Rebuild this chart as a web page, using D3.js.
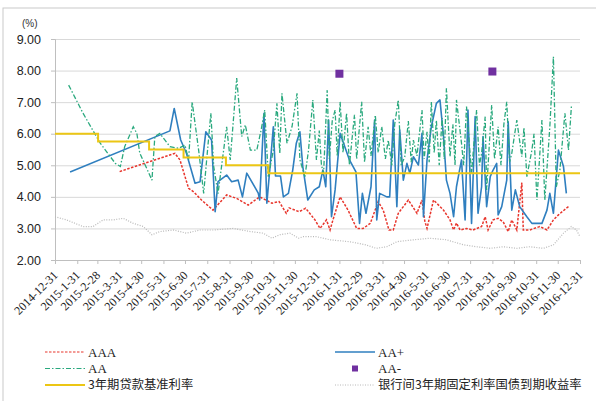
<!DOCTYPE html>
<html>
<head>
<meta charset="utf-8">
<script src="https://cdn.jsdelivr.net/npm/d3@7"></script>
<style>
body{margin:0;background:#fff;}
svg{display:block;}
</style>
</head>
<body>
<svg id="svg" width="596" height="401"></svg>
<script>
// month-end tick labels
var tickLabels = ["2014-12-31","2015-1-31","2015-2-28","2015-3-31","2015-4-30","2015-5-31","2015-6-30",
  "2015-7-31","2015-8-31","2015-9-30","2015-10-31","2015-11-30","2015-12-31","2016-1-31","2016-2-29",
  "2016-3-31","2016-4-30","2016-5-31","2016-6-30","2016-7-31","2016-8-31","2016-9-30","2016-10-31",
  "2016-11-30","2016-12-31"];
var yTicks = [2,3,4,5,6,7,8,9];

var aaaDates = ["2015-03-31","2015-06-16","2015-06-23","2015-07-05","2015-07-12","2015-07-23","2015-08-08",
  "2015-08-27","2015-09-10","2015-09-26","2015-10-12","2015-10-29","2015-11-08","2015-11-18","2015-11-22",
  "2015-12-06","2015-12-15","2015-12-28","2016-01-04","2016-01-13","2016-01-18","2016-01-22","2016-02-01",
  "2016-02-12","2016-02-24","2016-03-04","2016-03-14","2016-03-25","2016-04-01","2016-04-09","2016-04-15",
  "2016-04-22","2016-05-06","2016-05-18","2016-05-25","2016-05-29","2016-06-01","2016-06-10","2016-06-24",
  "2016-07-03","2016-07-08","2016-07-12","2016-07-17","2016-07-26","2016-08-04","2016-08-16","2016-08-21",
  "2016-08-25","2016-09-01","2016-09-08","2016-09-15","2016-09-22","2016-09-27","2016-10-04","2016-10-11",
  "2016-10-13","2016-10-22","2016-11-05","2016-11-15","2016-11-24","2016-12-01","2016-12-12","2016-12-15"];
var aaaValues = [4.80,5.38,5.17,4.27,4.16,3.90,3.58,
  4.06,3.95,3.74,4.00,3.80,3.85,3.48,3.65,
  3.53,3.64,3.27,3.00,3.27,2.95,3.27,4.00,
  3.58,3.00,3.00,3.16,3.85,3.58,2.95,2.95,
  3.48,3.90,3.48,3.90,3.22,3.00,3.90,3.58,
  3.27,2.95,3.17,2.95,3.00,2.95,3.06,3.37,
  2.95,3.27,3.32,3.21,2.90,3.27,2.95,4.45,
  2.95,2.95,3.06,2.95,3.27,3.43,3.64,3.69];

var aaPlusDates = ["2015-01-21","2015-06-09","2015-06-15","2015-06-24","2015-07-02","2015-07-14","2015-07-21",
  "2015-07-29","2015-08-06","2015-08-11","2015-08-15","2015-08-27","2015-09-03","2015-09-12","2015-09-18",
  "2015-09-24","2015-10-10","2015-10-12","2015-10-18","2015-10-22","2015-10-26","2015-10-31","2015-11-03",
  "2015-11-10","2015-11-14","2015-11-21","2015-11-27","2015-12-02","2015-12-07","2015-12-11","2015-12-18",
  "2015-12-27","2016-01-03","2016-01-08","2016-01-12","2016-01-16","2016-01-20","2016-01-25","2016-02-01",
  "2016-02-14","2016-02-23","2016-02-28","2016-03-03","2016-03-08","2016-03-15","2016-03-20","2016-03-23",
  "2016-03-27","2016-04-06","2016-04-10","2016-04-15","2016-04-20","2016-04-24","2016-04-29","2016-05-04",
  "2016-05-08","2016-05-13","2016-05-20","2016-05-25","2016-05-27","2016-06-01","2016-06-07","2016-06-14",
  "2016-06-19","2016-06-24","2016-06-28","2016-07-03","2016-07-08","2016-07-12","2016-07-19","2016-07-24",
  "2016-07-28","2016-08-02","2016-08-07","2016-08-11","2016-08-16","2016-08-18","2016-08-23","2016-08-28",
  "2016-09-01","2016-09-06","2016-09-08","2016-09-13","2016-09-20","2016-09-22","2016-09-27","2016-10-02",
  "2016-10-08","2016-10-18","2016-10-25","2016-11-08","2016-11-15","2016-11-19","2016-11-24","2016-12-01",
  "2016-12-08","2016-12-12"];
var aaPlusValues = [4.79,6.09,6.80,5.80,5.38,4.43,4.48,
  6.06,5.80,3.53,4.48,4.69,4.48,4.53,4.00,
  4.75,4.12,3.90,6.65,3.80,4.85,6.22,4.66,
  4.66,4.00,4.11,4.85,5.70,6.06,4.96,3.90,
  4.22,4.32,4.85,4.32,6.43,3.37,4.22,6.01,
  5.17,4.79,3.16,4.11,3.48,4.32,6.43,3.27,
  4.11,4.00,4.00,6.43,3.69,6.12,4.53,5.06,
  4.75,5.27,5.01,6.01,3.37,5.17,6.22,6.96,
  7.07,5.91,4.53,4.11,3.37,4.32,5.17,3.27,
  6.75,3.16,6.54,3.48,4.32,5.91,3.69,4.64,
  4.85,5.06,3.43,3.69,4.53,6.38,3.58,4.22,
  3.69,3.37,3.16,3.16,3.58,4.11,3.48,5.48,
  4.96,4.11];

var aaDates = ["2015-01-19","2015-02-08","2015-03-04","2015-03-25","2015-04-01","2015-04-07","2015-04-19",
  "2015-04-24","2015-04-28","2015-05-15","2015-05-19","2015-05-26","2015-06-09","2015-06-21","2015-06-30",
  "2015-07-05","2015-07-10","2015-07-19","2015-07-26","2015-08-05","2015-08-09","2015-08-15","2015-08-27",
  "2015-09-01","2015-09-10","2015-09-17","2015-09-22","2015-09-29","2015-10-08","2015-10-14","2015-10-19",
  "2015-10-24","2015-10-31","2015-11-05","2015-11-09","2015-11-12","2015-11-19","2015-11-26","2015-12-03",
  "2015-12-07","2015-12-14","2015-12-19","2015-12-25","2015-12-30",
  "2016-01-03","2016-01-06","2016-01-09","2016-01-14","2016-01-17","2016-01-21","2016-01-25","2016-01-28",
  "2016-02-01","2016-02-05","2016-02-10","2016-02-14","2016-02-17","2016-02-21","2016-02-24","2016-03-02",
  "2016-03-06","2016-03-11","2016-03-15","2016-03-21","2016-03-25","2016-03-30","2016-04-04","2016-04-08",
  "2016-04-13","2016-04-17","2016-04-22","2016-04-26","2016-05-01","2016-05-06","2016-05-10","2016-05-13",
  "2016-05-18","2016-05-25","2016-05-28","2016-06-01","2016-06-04","2016-06-07","2016-06-11","2016-06-14",
  "2016-06-18","2016-06-22","2016-06-25","2016-06-28","2016-07-03","2016-07-07","2016-07-10","2016-07-12",
  "2016-07-19","2016-07-22","2016-07-26","2016-08-02","2016-08-09","2016-08-13","2016-08-16","2016-08-21",
  "2016-08-23","2016-08-30","2016-09-03","2016-09-08","2016-09-12","2016-09-16","2016-09-20","2016-09-24",
  "2016-09-27","2016-10-04","2016-10-11","2016-10-14","2016-10-18","2016-10-25","2016-10-28","2016-11-01",
  "2016-11-08","2016-11-12","2016-11-19","2016-11-24","2016-11-28","2016-12-03","2016-12-10","2016-12-15",
  "2016-12-19"];
var aaValues = [7.54,6.65,5.70,5.06,4.96,5.59,6.22,
  6.01,5.39,4.53,5.91,6.01,5.59,5.54,5.64,
  5.17,7.01,5.48,4.11,6.65,4.96,4.10,6.22,
  5.17,7.76,5.91,6.28,5.48,5.48,6.12,6.75,
  4.64,5.48,6.96,5.38,7.28,5.70,6.22,7.28,
  5.17,4.64,5.48,7.07,5.17,
  6.10,5.00,4.75,7.38,5.20,6.40,6.75,5.30,
  7.01,5.40,6.65,5.00,5.70,6.60,5.20,7.01,
  5.10,6.22,5.30,6.59,5.40,6.22,5.20,5.80,
  5.00,6.30,7.07,5.00,5.27,6.40,5.10,5.80,
  5.30,6.75,5.20,6.06,5.10,7.01,5.40,6.43,
  5.00,6.50,5.20,7.44,5.27,6.30,5.00,7.07,
  5.70,5.00,6.86,4.75,6.75,5.00,5.38,6.54,
  4.22,6.91,5.20,6.22,5.00,6.30,7.01,5.10,
  5.38,6.43,5.27,6.20,4.64,5.48,6.00,3.90,
  6.43,3.90,6.22,8.44,4.32,4.85,6.65,5.48,
  6.86];

var aaMinusDates = ["2016-01-31","2016-08-31"];
var aaMinusValues = [7.90,7.97];

var loanDates = ["2014-12-31","2015-03-01","2015-05-11","2015-06-28","2015-08-26","2015-10-24","2016-12-31"];
var loanValues = [6.00,5.75,5.50,5.25,5.00,4.75,4.75];

var bondDates = ["2014-12-31","2015-01-16","2015-02-08","2015-02-22","2015-03-08","2015-03-22","2015-04-05",
  "2015-04-19","2015-05-03","2015-05-15","2015-05-26","2015-06-14","2015-07-02","2015-07-21","2015-08-08",
  "2015-09-05","2015-09-29","2015-10-17","2015-10-29","2015-11-09","2015-11-23","2015-12-05","2015-12-12",
  "2015-12-30","2016-01-18","2016-02-14","2016-03-08","2016-03-22","2016-04-06","2016-04-20","2016-05-13",
  "2016-06-05","2016-06-28","2016-07-22","2016-08-09","2016-08-28","2016-09-15","2016-10-04","2016-10-22",
  "2016-11-10","2016-11-24","2016-12-08","2016-12-19","2016-12-26","2016-12-31"];
var bondValues = [3.37,3.27,3.06,3.06,3.27,3.27,3.32,
  3.16,3.06,2.80,2.90,2.95,2.85,2.95,2.95,
  3.00,2.90,2.85,2.69,2.80,2.85,2.69,2.74,
  2.74,2.64,2.58,2.48,2.37,2.42,2.58,2.64,
  2.69,2.64,2.48,2.42,2.37,2.42,2.37,2.42,
  2.37,2.48,2.85,3.06,2.95,2.74];

var legendNames = ["AAA","AA+","AA","AA-","3年期贷款基准利率","银行间3年期固定利率国债到期收益率"];

var parse = d3.timeParse("%Y-%m-%d");

function pairs(dates, values){
  return dates.map(function(d,i){ return {date: parse(d), value: values[i]}; });
}

var svg = d3.select("#svg");

var x = d3.scaleTime()
  .domain([parse("2014-12-31"), parse("2016-12-31")])
  .range([55, 580]);
var y = d3.scaleLinear()
  .domain([2, 9])
  .range([260, 39]);

// outer frame
svg.append("rect")
  .attr("x",3).attr("y",8)
  .attr("width",620).attr("height",420)
  .attr("fill","none")
  .attr("stroke","#c9c9c9");

// gridlines
svg.append("g")
  .attr("transform","translate(55,0)")
  .call(d3.axisLeft(y).tickValues(yTicks.slice(1)).tickSize(-525).tickFormat(""))
  .call(function(g){ g.select(".domain").remove(); })
  .selectAll("line").attr("stroke","#d9d9d9");

// y axis
var yAxis = svg.append("g")
  .attr("transform","translate(55,0)")
  .call(d3.axisLeft(y).tickValues(yTicks).tickSize(4).tickPadding(10).tickFormat(d3.format(".2f")));
yAxis.select(".domain").attr("stroke","#bfbfbf");
yAxis.selectAll("line").attr("stroke","#bfbfbf");
yAxis.selectAll("text")
  .attr("font-family","'Liberation Sans', Arial, sans-serif")
  .attr("font-size","12.5px")
  .attr("fill","#222");

svg.append("text")
  .attr("x",22).attr("y",27)
  .attr("font-family","'Liberation Sans', Arial, sans-serif")
  .attr("font-size","10px")
  .attr("fill","#333")
  .text("(%)");

// x axis
var tickDates = tickLabels.map(function(t){ return parse(t); });
var xAxis = svg.append("g")
  .attr("transform","translate(0,260)")
  .call(d3.axisBottom(x).tickValues(tickDates).tickSize(4).tickFormat(function(d,i){ return tickLabels[i]; }));
xAxis.select(".domain").attr("stroke","#bfbfbf");
xAxis.selectAll("line").attr("stroke","#bfbfbf");
xAxis.selectAll("text")
  .attr("font-family","'Liberation Serif', 'Times New Roman', serif")
  .attr("font-size","12px")
  .attr("fill","#222")
  .attr("text-anchor","end")
  .attr("dy",null)
  .attr("y",null)
  .attr("transform","translate(3,16) rotate(-45)");

function line(){
  return d3.line()
    .x(function(d){ return x(d.date); })
    .y(function(d){ return y(d.value); });
}

var series = svg.append("g");

series.append("path")
  .datum(pairs(aaaDates, aaaValues))
  .attr("d", line())
  .attr("fill","none")
  .attr("stroke","#e8362d")
  .attr("stroke-width",1.5)
  .attr("stroke-dasharray","2.5,1.5");

series.append("path")
  .datum(pairs(aaPlusDates, aaPlusValues))
  .attr("d", line())
  .attr("fill","none")
  .attr("stroke","#2f7fbf")
  .attr("stroke-width",1.6)
  .attr("stroke-linejoin","round");

series.append("path")
  .datum(pairs(aaDates, aaValues))
  .attr("d", line())
  .attr("fill","none")
  .attr("stroke","#2aa97e")
  .attr("stroke-width",1.3)
  .attr("stroke-dasharray","5,2,1.5,2");

series.selectAll(".aaminus")
  .data(pairs(aaMinusDates, aaMinusValues))
  .enter().append("rect")
  .classed("aaminus", true)
  .attr("x",function(d){ return x(d.date) - 4; })
  .attr("y",function(d){ return y(d.value) - 4; })
  .attr("width",8).attr("height",8)
  .attr("fill","#7030a0");

series.append("path")
  .datum(pairs(loanDates, loanValues))
  .attr("d", line().curve(d3.curveStepAfter))
  .attr("fill","none")
  .attr("stroke","#ecc614")
  .attr("stroke-width",2);

series.append("path")
  .datum(pairs(bondDates, bondValues))
  .attr("d", line())
  .attr("fill","none")
  .attr("stroke","#b8b8b8")
  .attr("stroke-width",1.2)
  .attr("stroke-dasharray","1,1.5");

// legend
var legendStyles = [
  {color:"#e8362d", dash:"2.5,1.5", width:1.2},
  {color:"#2f7fbf", dash:null, width:1.5},
  {color:"#2aa97e", dash:"5,2,1.5,2", width:1},
  {color:"#7030a0", marker:true},
  {color:"#ecc614", dash:null, width:1.8},
  {color:"#b8b8b8", dash:"1,1.5", width:1}
];

var legend = svg.selectAll(".legend").data(legendNames).enter()
  .append("g")
  .classed("legend", true)
  .attr("transform", function(d,i){
    var col = i % 2, row = Math.floor(i / 2);
    return "translate(" + (col ? 335 : 45) + "," + (352 + row * 16.5) + ")";
  });

legend.each(function(d,i){
  var g = d3.select(this), s = legendStyles[i];
  if(s.marker){
    g.append("rect").attr("x",17).attr("y",-3).attr("width",6).attr("height",6).attr("fill",s.color);
  }else{
    g.append("line")
      .attr("x1",0).attr("x2",40).attr("y1",0).attr("y2",0)
      .attr("stroke",s.color)
      .attr("stroke-width",s.width)
      .attr("stroke-dasharray",s.dash);
  }
  var cjk = /[\u4e00-\u9fff]/.test(d);
  g.append("text")
    .attr("x",43)
    .attr("y",0)
    .attr("dy","0.35em")
    .attr("font-family", cjk ? "'Noto Sans CJK SC', sans-serif" : "'Liberation Serif', 'Times New Roman', serif")
    .attr("font-size", cjk ? "12.3px" : "13px")
    .attr("fill","#222")
    .text(d);
});
</script>
</body>
</html>
